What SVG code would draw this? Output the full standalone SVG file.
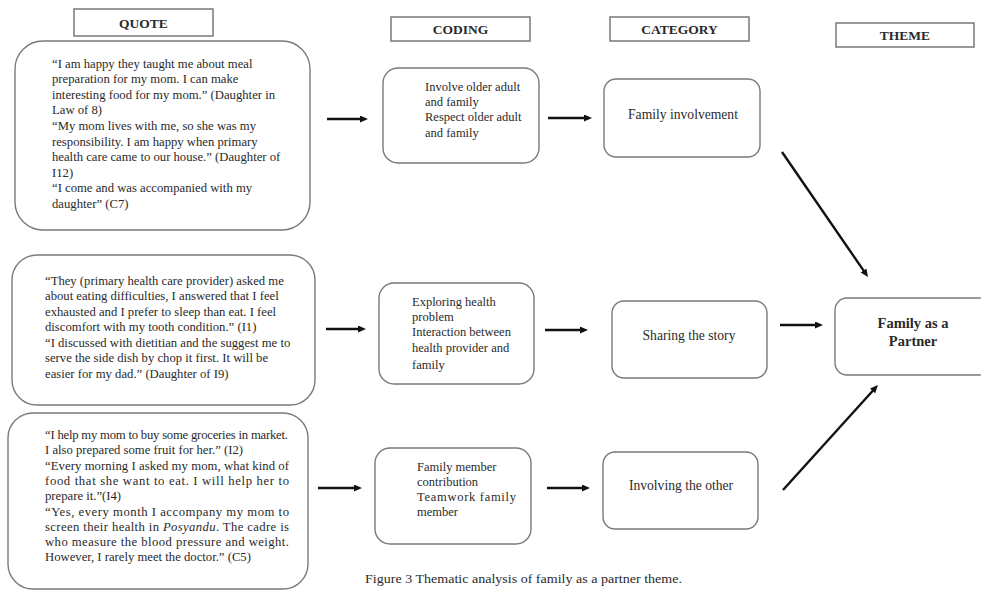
<svg xmlns="http://www.w3.org/2000/svg" width="981" height="592" viewBox="0 0 981 592">
<defs>
<marker id="ah" markerUnits="userSpaceOnUse" markerWidth="9" markerHeight="8" refX="3" refY="3.5" orient="auto">
<path d="M0,0 L8,3.5 L0,7 z" fill="#111"/>
</marker>
</defs>
<style>
text{font-family:"Liberation Serif","Times New Roman",serif;fill:#2a2a2a}
.hdr{fill:#fff;stroke:#6f6f6f;stroke-width:1.4}
.ht{font-size:13.5px;font-weight:bold;text-anchor:middle}
.box{fill:#fff;stroke:#7a7a7a;stroke-width:1.4}
.q{font-size:12.7px}
.c{font-size:12.5px}
.cat{font-size:13.6px;text-anchor:middle}
.th{font-size:14.5px;font-weight:bold;text-anchor:middle}
.ar{stroke:#111;stroke-width:2.4;fill:none;marker-end:url(#ah)}
.cap{font-size:12.5px}
</style>
<rect width="981" height="592" fill="#fff"/>
<g id="headers">
<g id="h-quote"><rect class="hdr" x="74" y="9" width="139" height="27"/><text class="ht" x="143.5" y="27.5">QUOTE</text></g>
<g id="h-coding"><rect class="hdr" x="391" y="17" width="139" height="24"/><text class="ht" x="460.5" y="34">CODING</text></g>
<g id="h-category"><rect class="hdr" x="610" y="17" width="139" height="24"/><text class="ht" x="679.5" y="34">CATEGORY</text></g>
<g id="h-theme"><rect class="hdr" x="836" y="23" width="138" height="24"/><text class="ht" x="905" y="40">THEME</text></g>
</g>
<g id="quote1">
<rect class="box" x="15" y="41" width="295" height="189" rx="28"/>
<text class="q" x="52" y="67.5">“I am happy they taught me about meal</text>
<text class="q" x="52" y="83.1">preparation for my mom. I can make</text>
<text class="q" x="52" y="98.7">interesting food for my mom.” (Daughter in</text>
<text class="q" x="52" y="114.3">Law of 8)</text>
<text class="q" x="52" y="129.9">“My mom lives with me, so she was my</text>
<text class="q" x="52" y="145.5">responsibility. I am happy when primary</text>
<text class="q" x="52" y="161.1">health care came to our house.” (Daughter of</text>
<text class="q" x="52" y="176.7">I12)</text>
<text class="q" x="52" y="192.3">“I come and was accompanied with my</text>
<text class="q" x="52" y="207.9">daughter” (C7)</text>
</g>
<g id="quote2">
<rect class="box" x="12" y="255" width="303" height="150" rx="25"/>
<text class="q" x="45" y="284.5">“They (primary health care provider) asked me</text>
<text class="q" x="45" y="300">about eating difficulties, I answered that I feel</text>
<text class="q" x="45" y="315.5">exhausted and I prefer to sleep than eat. I feel</text>
<text class="q" x="45" y="331">discomfort with my tooth condition.” (I1)</text>
<text class="q" x="45" y="346.5">“I discussed with dietitian and the suggest me to</text>
<text class="q" x="45" y="362">serve the side dish by chop it first. It will be</text>
<text class="q" x="45" y="377.5">easier for my dad.” (Daughter of I9)</text>
</g>
<g id="quote3">
<rect class="box" x="8" y="413" width="300" height="176" rx="25"/>
<text class="q" x="45" y="439" textLength="243" lengthAdjust="spacing">“I help my mom to buy some groceries in market.</text>
<text class="q" x="45" y="454.3">I also prepared some fruit for her.” (I2)</text>
<text class="q" x="45" y="469.6" textLength="244" lengthAdjust="spacing">“Every morning I asked my mom, what kind of</text>
<text class="q" x="45" y="484.9" textLength="244" lengthAdjust="spacing">food that she want to eat. I will help her to</text>
<text class="q" x="45" y="500.2">prepare it.”(I4)</text>
<text class="q" x="45" y="515.5" textLength="244" lengthAdjust="spacing">“Yes, every month I accompany my mom to</text>
<text class="q" x="45" y="530.8" textLength="244" lengthAdjust="spacing">screen their health in <tspan font-style="italic">Posyandu</tspan>. The cadre is</text>
<text class="q" x="45" y="546.1" textLength="244" lengthAdjust="spacing">who measure the blood pressure and weight.</text>
<text class="q" x="45" y="561.4">However, I rarely meet the doctor.” (C5)</text>
</g>
<g id="coding1">
<rect class="box" x="383" y="68" width="156" height="95" rx="15"/>
<text class="c" x="425" y="91">Involve older adult</text>
<text class="c" x="425" y="105.5">and family</text>
<text class="c" x="425" y="120.5">Respect older adult</text>
<text class="c" x="425" y="136.5">and family</text>
</g>
<g id="coding2">
<rect class="box" x="379" y="283" width="155" height="101" rx="15"/>
<text class="c" x="412" y="306">Exploring health</text>
<text class="c" x="412" y="321">problem</text>
<text class="c" x="412" y="335.5">Interaction between</text>
<text class="c" x="412" y="352">health provider and</text>
<text class="c" x="412" y="368.5">family</text>
</g>
<g id="coding3">
<rect class="box" x="375" y="448" width="156" height="96" rx="15"/>
<text class="c" x="417" y="471">Family member</text>
<text class="c" x="417" y="486">contribution</text>
<text class="c" x="417" y="500.5" textLength="99" lengthAdjust="spacing">Teamwork family</text>
<text class="c" x="417" y="516">member</text>
</g>
<g id="category1">
<rect class="box" x="604" y="79" width="156" height="78" rx="12"/>
<text class="cat" x="683" y="118.5">Family involvement</text>
</g>
<g id="category2">
<rect class="box" x="612" y="301" width="155" height="77" rx="12"/>
<text class="cat" x="689" y="339.5">Sharing the story</text>
</g>
<g id="category3">
<rect class="box" x="603" y="452" width="155" height="77" rx="12"/>
<text class="cat" x="681" y="489.5">Involving the other</text>
</g>
<g id="theme">
<rect class="box" x="835" y="298" width="156" height="77" rx="12"/>
<text class="th" x="913" y="327.5">Family as a</text>
<text class="th" x="913" y="345.5">Partner</text>
</g>
<g id="connectors">
<line class="ar" x1="327" y1="119" x2="363" y2="119"/>
<line class="ar" x1="548" y1="118" x2="587" y2="118"/>
<line class="ar" x1="326" y1="329" x2="361" y2="329"/>
<line class="ar" x1="545" y1="330" x2="583" y2="330"/>
<line class="ar" x1="780" y1="325" x2="818" y2="325"/>
<line class="ar" x1="318" y1="488" x2="357" y2="488"/>
<line class="ar" x1="547" y1="488" x2="585" y2="488"/>
<line class="ar" x1="782" y1="152" x2="865.2" y2="272.9"/>
<line class="ar" x1="783" y1="490" x2="874.6" y2="388.7"/>
</g>
<text class="cap" x="365" y="583" textLength="317" lengthAdjust="spacingAndGlyphs">Figure 3 Thematic analysis of  family as a partner theme.</text>
</svg>
